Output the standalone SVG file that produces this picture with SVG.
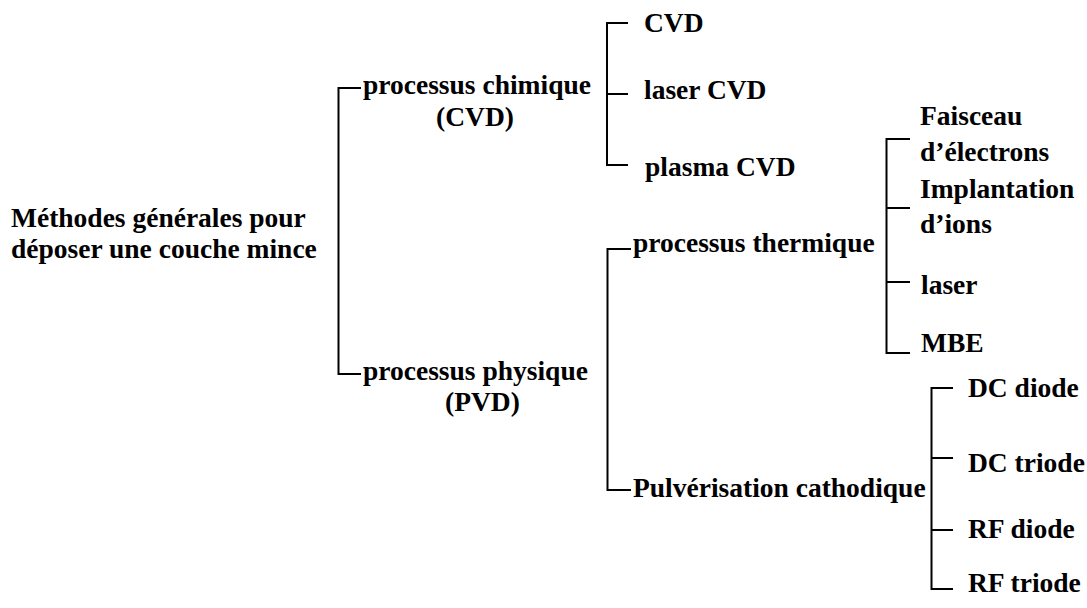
<svg xmlns="http://www.w3.org/2000/svg" width="1087" height="608" viewBox="0 0 1087 608">
<style>
text{font-family:"Liberation Serif","Times New Roman",serif;font-weight:bold;font-size:27.5px;fill:#000}
.c{fill:none;stroke:#000;stroke-width:2}
</style>
<rect width="1087" height="608" fill="#fff"/>
<g id="connectors">
<path class="c" d="M361,88H338.5V374H361"/>
<path class="c" d="M628,23H607V165H628M607,94H628"/>
<path class="c" d="M631,249H607.5V490H631"/>
<path class="c" d="M910,139H886.5V353H910M886.5,208H910M886.5,282H910"/>
<path class="c" d="M953,388H931.5V589H953M931.5,458H953M931.5,530H953"/>
</g>
<g id="root"><text x="11" y="226.5">Méthodes générales pour</text><text x="11" y="258">déposer une couche mince</text></g>
<g id="chimique"><text x="363" y="94">processus chimique</text><text x="436" y="126">(CVD)</text></g>
<g id="physique"><text x="363" y="380">processus physique</text><text x="445" y="411">(PVD)</text></g>
<g id="cvd"><text x="644" y="32">CVD</text></g>
<g id="laser-cvd"><text x="644" y="99">laser CVD</text></g>
<g id="plasma-cvd"><text x="645" y="176">plasma CVD</text></g>
<g id="thermique"><text x="633" y="252">processus thermique</text></g>
<g id="pulverisation"><text x="633" y="496.5">Pulvérisation cathodique</text></g>
<g id="faisceau"><text x="920" y="125">Faisceau</text><text x="920" y="161">d’électrons</text></g>
<g id="implantation"><text x="920" y="198">Implantation</text><text x="920" y="233">d’ions</text></g>
<g id="laser"><text x="921" y="294">laser</text></g>
<g id="mbe"><text x="921" y="352">MBE</text></g>
<g id="dc-diode"><text x="968" y="397">DC diode</text></g>
<g id="dc-triode"><text x="968" y="472">DC triode</text></g>
<g id="rf-diode"><text x="968" y="538">RF diode</text></g>
<g id="rf-triode"><text x="968" y="592">RF triode</text></g>
</svg>
